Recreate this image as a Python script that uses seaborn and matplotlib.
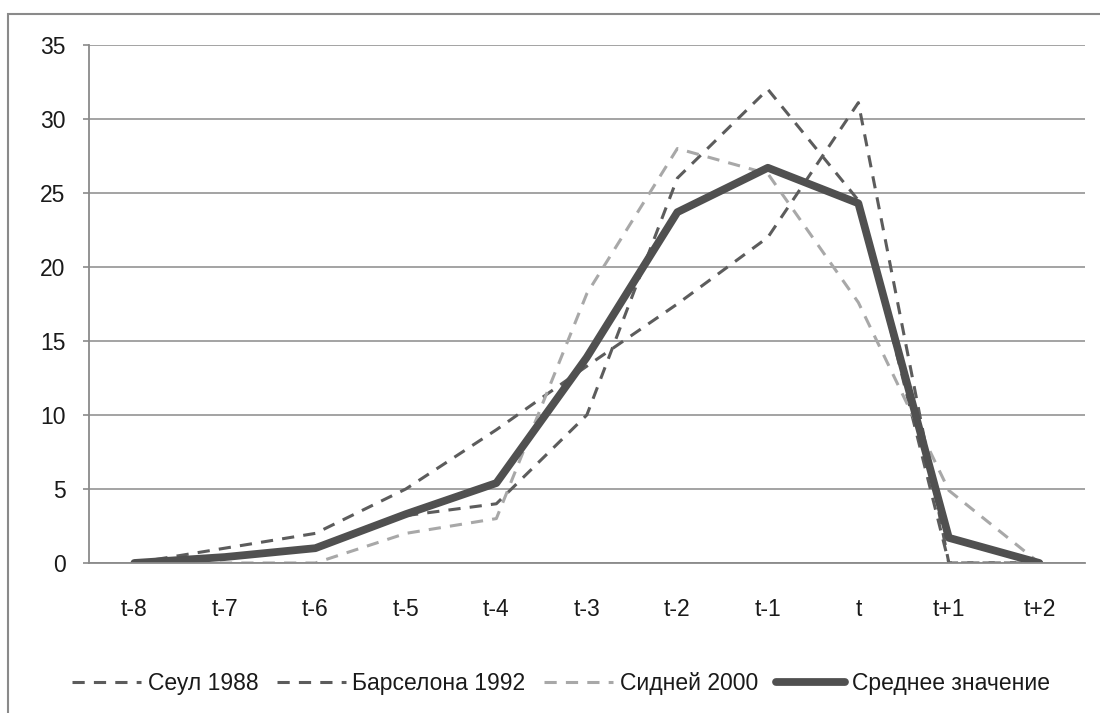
import matplotlib
matplotlib.use("Agg")
from matplotlib import pyplot as plt
from matplotlib.patches import Rectangle
import numpy as np
import pandas as pd
import seaborn as sns

# values
periods = ["t-8", "t-7", "t-6", "t-5", "t-4", "t-3", "t-2", "t-1", "t", "t+1", "t+2"]
seoul_1988 = [0, 1.0, 2.0, 5.0, 9.0, 13.3, 17.5, 22.0, 31.1, 0, 0]
barcelona_1992 = [0, 0.3, 1.0, 3.2, 4.0, 10.0, 26.0, 32.0, 24.5, 0, 0]
sydney_2000 = [0, 0, 0, 2.0, 3.0, 18.2, 28.0, 26.3, 17.6, 4.9, 0]
average = [0, 0.4, 1.0, 3.3, 5.4, 13.9, 23.7, 26.7, 24.3, 1.7, 0]

series_names = ["Сеул 1988", "Барселона 1992", "Сидней 2000", "Среднее значение"]
y_ticks = [0, 5, 10, 15, 20, 25, 30, 35]

sns.set_style("white")
plt.rcParams["font.family"] = ["Liberation Sans", "DejaVu Sans"]

fig, ax = plt.subplots(figsize=(11, 7.13), dpi=100)
fig.subplots_adjust(left=0.081, right=0.986, top=0.937, bottom=0.2104)

styles = [
    (seoul_1988, "#5c5c5c", 2.2, (4, 3)),
    (barcelona_1992, "#5c5c5c", 2.2, (4, 3)),
    (sydney_2000, "#a8a8a8", 2.2, (4, 3)),
    (average, "#505050", 5.6, None),
]
for name, (vals, color, lw, dash) in zip(series_names, styles):
    sns.lineplot(x=periods, y=vals, ax=ax, color=color, linewidth=lw, sort=False,
                 label=name, linestyle="--" if dash else "-")
    line = ax.get_lines()[-1]
    if dash:
        line.set_dashes(dash)

ax.set_ylim(0, 35)
ax.set_yticks(y_ticks)
ax.set_xlim(-0.5, len(periods) - 0.5)
ax.set_xticks(range(len(periods)))
ax.set_xticklabels(periods)
ax.set_xticks(np.arange(-0.5, len(periods), 1), minor=True)
ax.set_xlabel("")
ax.set_ylabel("")

ax.yaxis.grid(True, color="#8a8a8a", linewidth=1.1)
ax.set_axisbelow(True)
for side in ["top", "right"]:
    ax.spines[side].set_visible(False)
for side in ["left", "bottom"]:
    ax.spines[side].set_color("#8a8a8a")
    ax.spines[side].set_linewidth(1.3)

ax.tick_params(axis="x", which="major", length=0, pad=25, labelsize=16.5, labelcolor="#1a1a1a")
ax.tick_params(axis="x", which="minor", length=7, width=1.2, color="#8a8a8a", direction="out")
ax.tick_params(axis="y", length=4, width=1.2, color="#8a8a8a", direction="out", left=True,
               pad=13, labelsize=16.5, labelcolor="#1a1a1a")

handles, labels = ax.get_legend_handles_labels()
leg = fig.legend(handles, labels, loc="center", bbox_to_anchor=(0.51, 0.042), ncol=4,
                 frameon=False, fontsize=16.5, handlelength=3.0, handletextpad=0.3,
                 columnspacing=0.8, labelcolor="#1a1a1a")
ax.get_legend().remove()

# outer chart border (only top and left visible in the reference)
fig.patches.append(Rectangle((0.0075, -0.1), 1.2, 1.081, transform=fig.transFigure,
                             fill=False, edgecolor="#8a8a8a", linewidth=1.5))

fig.savefig("out.png", dpi=100)
